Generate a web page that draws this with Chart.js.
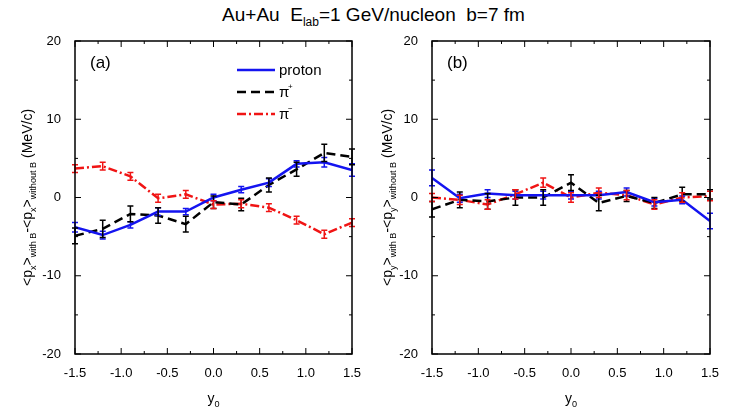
<!DOCTYPE html>
<html><head><meta charset="utf-8">
<script src="https://cdn.jsdelivr.net/npm/chart.js@4"></script>
<style>
body{margin:0;width:747px;height:417px;background:#fff;position:relative;overflow:hidden;font-family:"Liberation Sans",Arial,sans-serif}
#title{position:absolute;top:4px;left:0;width:747px;text-align:center;font-size:19px}
#title sub{font-size:12px}
canvas{position:absolute;top:0}
</style></head><body>
<div id="title">Au+Au&nbsp; E<sub>lab</sub>=1 GeV/nucleon&nbsp; b=7 fm</div>
<div style="position:absolute;left:0;top:0;width:372px;height:417px"><canvas id="ca"></canvas></div>
<div style="position:absolute;left:360px;top:0;width:387px;height:417px"><canvas id="cb"></canvas></div>
<script>
// ── DATA ──────────────────────────────
const yVals = [-1.5, -1.2, -0.9, -0.6, -0.3, 0, 0.3, 0.6, 0.9, 1.2, 1.5];
const xTicks = [-1.5, -1.0, -0.5, 0.0, 0.5, 1.0, 1.5];

const pxProton = [-3.8, -4.8, -3.5, -1.8, -1.8, 0.0, 1.0, 1.9, 4.3, 4.5, 3.5];
const pxProtonErr = [0.6, 0.5, 0.4, 0.5, 0.4, 0.4, 0.4, 0.5, 0.4, 0.6, 0.8];
const pxPip = [-4.9, -4.0, -2.1, -2.3, -3.4, -0.6, -0.9, 1.6, 3.6, 5.7, 5.2];
const pxPipErr = [1.0, 1.1, 1.0, 1.0, 1.0, 0.8, 0.8, 0.9, 0.9, 1.1, 1.0];
const pxPim = [3.7, 4.0, 2.7, -0.1, 0.4, -0.9, -0.8, -1.3, -2.9, -4.7, -3.2];
const pxPimErr = [0.5, 0.5, 0.5, 0.5, 0.5, 0.5, 0.5, 0.5, 0.5, 0.5, 0.5];

const pyProton = [2.5, -0.1, 0.5, 0.3, 0.3, 0.3, 0.3, 0.7, -0.6, -0.3, -3.0];
const pyProtonErr = [1.0, 0.5, 0.5, 0.5, 0.5, 0.5, 0.5, 0.5, 0.5, 0.5, 1.0];
const pyPip = [-1.5, -0.3, -0.5, 0.0, 0.0, 1.9, -0.7, 0.2, -0.7, 0.4, 0.4];
const pyPipErr = [1.0, 1.0, 1.0, 1.0, 1.0, 1.0, 1.0, 0.7, 0.7, 0.9, 0.6];
const pyPim = [0.0, -0.3, -0.9, 0.4, 1.9, 0.0, 0.6, 0.3, -0.9, 0.0, 0.2];
const pyPimErr = [0.5, 0.6, 0.6, 0.6, 0.6, 0.6, 0.6, 0.6, 0.6, 0.6, 0.6];

const SERIES = [
  { label: 'proton', color: '#1414f0', dash: [] },
  { label: 'π+', color: '#000', dash: [9, 5] },
  { label: 'π−', color: '#f01414', dash: [9, 3, 2, 3] },
];

// ── HELPERS ───────────────────────────
function richText(ctx, parts, x, y, size) {
  // parts: [text, 'n'|'sub'|'sup'], centred on x
  let w = 0;
  parts.forEach(([t, k]) => { ctx.font = `${k === 'n' ? size : size * 0.65}px "Liberation Sans", Arial`; w += ctx.measureText(t).width; });
  let cx = x - w / 2;
  parts.forEach(([t, k]) => {
    ctx.font = `${k === 'n' ? size : size * 0.65}px "Liberation Sans", Arial`;
    const dy = k === 'sub' ? size * 0.3 : k === 'sup' ? -size * 0.4 : 0;
    ctx.fillText(t, cx, y + dy);
    cx += ctx.measureText(t).width;
  });
}

const framePlugin = {
  id: 'frame',
  afterDatasetsDraw(chart, args, opts) {
    const { ctx, chartArea: a, scales: { x, y } } = chart;
    ctx.save();
    // error bars
    chart.data.datasets.forEach(ds => {
      ctx.strokeStyle = ds.borderColor; ctx.lineWidth = 1.5; ctx.setLineDash([]);
      ds.data.forEach((p, j) => {
        const px = x.getPixelForValue(p.x);
        const y1 = y.getPixelForValue(p.y + ds.err[j]), y2 = y.getPixelForValue(p.y - ds.err[j]);
        ctx.beginPath();
        ctx.moveTo(px, y1); ctx.lineTo(px, y2);
        ctx.moveTo(px - 3, y1); ctx.lineTo(px + 3, y1);
        ctx.moveTo(px - 3, y2); ctx.lineTo(px + 3, y2);
        ctx.stroke();
      });
    });
    // frame + inward ticks on all sides
    ctx.strokeStyle = '#000'; ctx.lineWidth = 1.5;
    ctx.strokeRect(a.left, a.top, a.right - a.left, a.bottom - a.top);
    ctx.lineWidth = 1;
    for (let v = -1.5; v <= 1.51; v += 0.25) {
      const px = x.getPixelForValue(v), len = Math.abs((v * 2) % 1) < 0.01 ? 6 : 3;
      ctx.beginPath(); ctx.moveTo(px, a.bottom); ctx.lineTo(px, a.bottom - len);
      ctx.moveTo(px, a.top); ctx.lineTo(px, a.top + len); ctx.stroke();
    }
    for (let v = -20; v <= 20; v += 5) {
      const py = y.getPixelForValue(v), len = v % 10 === 0 ? 6 : 3;
      ctx.beginPath(); ctx.moveTo(a.left, py); ctx.lineTo(a.left + len, py);
      ctx.moveTo(a.right, py); ctx.lineTo(a.right - len, py); ctx.stroke();
    }
    // labels
    ctx.fillStyle = '#000';
    ctx.font = '17px "Liberation Sans", Arial';
    ctx.fillText(opts.tag, a.left + 15, a.top + 27);
    richText(ctx, [['y', 'n'], ['0', 'sub']], (a.left + a.right) / 2, 403, 14);
    ctx.save();
    ctx.translate(32, (a.top + a.bottom) / 2); ctx.rotate(-Math.PI / 2);
    const c = opts.comp;
    richText(ctx, [['<p', 'n'], [c, 'sub'], ['>', 'n'], ['with B', 'sub'], ['-<p', 'n'], [c, 'sub'], ['>', 'n'], ['without B', 'sub'], [' (MeV/c)', 'n']], 0, 0, 14);
    ctx.restore();
    // legend
    if (opts.legend) {
      chart.data.datasets.forEach((ds, i) => {
        const ly = 70 + i * 22;
        ctx.strokeStyle = ds.borderColor; ctx.lineWidth = 2.5; ctx.setLineDash(ds.borderDash);
        ctx.beginPath(); ctx.moveTo(237, ly); ctx.lineTo(275, ly); ctx.stroke();
        ctx.setLineDash([]); ctx.fillStyle = '#000';
        ctx.font = '15px "Liberation Sans", Arial';
        if (i === 0) ctx.fillText('proton', 279, ly + 5);
        else {
          ctx.fillText('π', 279, ly + 5);
          ctx.font = '8px "Liberation Sans", Arial';
          ctx.fillText(i === 1 ? '+' : '−', 288, ly - 3);
        }
      });
    }
    ctx.restore();
  }
};

const pts = arr => arr.map((v, i) => ({ x: yVals[i], y: v }));

function makePanel(id, vals, errs, tag, comp, legend, yw, rightPad) {
  new Chart(document.getElementById(id), {
    type: 'line',
    data: {
      datasets: SERIES.map((s, i) => ({
        label: s.label,
        data: pts(vals[i]),
        err: errs[i],
        borderColor: s.color,
        borderDash: s.dash,
        borderWidth: 2.5,
        pointRadius: 0,
        tension: 0,
        fill: false,
      })),
    },
    options: {
      responsive: true, maintainAspectRatio: false, animation: false,
      layout: { padding: { top: 41, right: rightPad, left: 0, bottom: 0 } },
      plugins: { legend: { display: false }, tooltip: { enabled: false }, frame: { tag, comp, legend } },
      scales: {
        x: {
          type: 'linear', min: -1.5, max: 1.5,
          afterBuildTicks: ax => { ax.ticks = xTicks.map(v => ({ value: v })); },
          afterFit: ax => { ax.height = 63; },
          grid: { display: false }, border: { display: false },
          ticks: { maxRotation: 0, color: '#000', font: { size: 13, family: 'Liberation Sans' }, callback: v => v.toFixed(1), padding: 4 },
        },
        y: {
          min: -20, max: 20,
          afterFit: ax => { ax.width = yw; },
          grid: { display: false }, border: { display: false },
          ticks: { stepSize: 10, color: '#000', font: { size: 13, family: 'Liberation Sans' }, padding: 6 },
        },
      },
    },
    plugins: [framePlugin],
  });
}

makePanel('ca', [pxProton, pxPip, pxPim], [pxProtonErr, pxPipErr, pxPimErr], '(a)', 'x', true, 75, 20);
makePanel('cb', [pyProton, pyPip, pyPim], [pyProtonErr, pyPipErr, pyPimErr], '(b)', 'y', false, 72, 37);
</script>
</body></html>
